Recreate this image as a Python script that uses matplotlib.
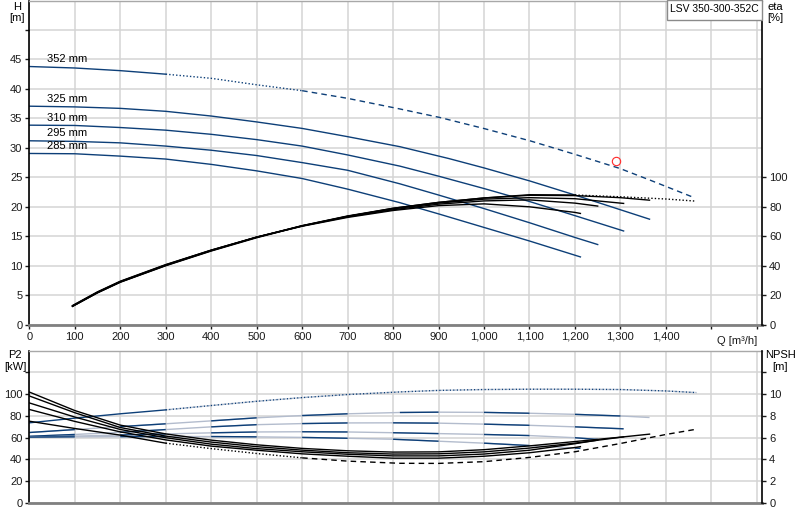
import numpy as np
import matplotlib
matplotlib.use("Agg")
from matplotlib import pyplot as plt
from matplotlib.patches import Rectangle

plt.rcParams['font.family'] = ['Liberation Sans', 'DejaVu Sans']
plt.rcParams['font.size'] = 8

NAVY = '#0d3f78'
LIGHT = '#b3bccd'
GRID = '#d4d4d4'
DOT = (0, (1, 1.5))
DASH = (0, (4, 3))

# head curves  Q [m3/h], H [m]
q_h352 = [0, 100, 200, 300, 400, 500, 600, 700, 815, 903, 999, 1101, 1200, 1299, 1366, 1464]
h352 = [43.8, 43.55, 43.1, 42.5, 41.8, 40.7, 39.7, 38.4, 36.6, 35.15, 33.3, 31.2, 28.9, 26.5, 24.5, 21.5]
q_h325 = [0, 100, 200, 300, 400, 500, 600, 700, 815, 922, 1000, 1100, 1200, 1300, 1364]
h325 = [37.07, 36.95, 36.7, 36.2, 35.4, 34.4, 33.3, 31.9, 30.2, 28.2, 26.6, 24.4, 22.0, 19.5, 17.9]
q_h310 = [0, 100, 200, 300, 400, 500, 600, 700, 815, 900, 1000, 1100, 1200, 1307]
h310 = [33.85, 33.8, 33.45, 33.0, 32.3, 31.4, 30.3, 28.8, 26.9, 25.2, 23.1, 20.9, 18.5, 15.9]
q_h295 = [0, 100, 200, 300, 400, 500, 600, 700, 815, 900, 1000, 1100, 1200, 1250]
h295 = [31.2, 31.1, 30.85, 30.3, 29.6, 28.7, 27.5, 26.2, 23.9, 22.0, 19.7, 17.3, 14.8, 13.6]
q_h285 = [0, 100, 200, 300, 400, 500, 600, 700, 815, 900, 1000, 1100, 1212]
h285 = [29.05, 29.0, 28.6, 28.1, 27.2, 26.1, 24.8, 23.0, 20.7, 18.8, 16.5, 14.2, 11.5]
diameters = ['352 mm', '325 mm', '310 mm', '295 mm', '285 mm']

# duty point
q_duty = [1291]
h_duty = [27.7]

# efficiency curves  eta [%]
q_e352 = [95, 150, 200, 300, 400, 500, 600, 700, 800, 900, 1000, 1100, 1200, 1300, 1400, 1464]
e352 = [12.4, 21.6, 28.8, 40, 50, 59, 67, 73.5, 79, 83, 86, 88.2, 88.0, 86.8, 85.3, 83.9]
q_e325 = [95, 150, 200, 300, 400, 500, 600, 700, 800, 900, 1000, 1100, 1200, 1300, 1364]
e325 = [12.5, 21.7, 28.9, 40.2, 50.2, 59.3, 67.2, 73.8, 79, 83, 86, 87.8, 87.6, 86.2, 84.5]
q_e310 = [95, 150, 200, 300, 400, 500, 600, 700, 800, 900, 1000, 1100, 1200, 1307]
e310 = [12.6, 21.9, 29.1, 40.4, 50.4, 59.4, 67.2, 73.6, 78.6, 82.5, 85.2, 86.2, 85.5, 82.3]
q_e295 = [95, 150, 200, 300, 400, 500, 600, 700, 800, 900, 1000, 1100, 1200, 1250]
e295 = [12.8, 22.1, 29.3, 40.6, 50.6, 59.5, 67, 73.2, 78, 81.8, 84, 84.7, 82.5, 80.5]
q_e285 = [95, 150, 200, 300, 400, 500, 600, 700, 800, 900, 1000, 1100, 1200, 1212]
e285 = [13, 22.3, 29.5, 40.8, 50.6, 59.4, 66.8, 72.8, 77.5, 80.8, 82, 80, 76.2, 75.5]

# power curves  P2 [kW]
q_p352 = [0, 100, 200, 300, 400, 500, 600, 700, 815, 900, 1000, 1100, 1200, 1300, 1400, 1467]
p352 = [73.7, 78, 82, 85.6, 89.6, 93.5, 96.9, 99.7, 102.1, 103.5, 104.3, 104.6, 104.6, 104.3, 103, 101.5]
q_p325 = [0, 100, 200, 300, 400, 500, 600, 700, 815, 900, 1000, 1100, 1200, 1300, 1364]
p325 = [64.8, 67.5, 70.2, 72.8, 75.5, 78.3, 80.4, 82, 83.2, 83.5, 83.3, 82.5, 81.5, 80, 78.6]
q_p310 = [0, 100, 200, 300, 400, 500, 600, 700, 800, 900, 1000, 1100, 1200, 1307]
p310 = [61.3, 63, 65, 67.5, 70, 72, 73, 73.6, 73.7, 73.4, 72.5, 71.4, 70, 68.2]
q_p295 = [0, 100, 200, 300, 400, 500, 600, 700, 800, 900, 1000, 1100, 1200, 1250]
p295 = [60.6, 61.5, 62.5, 63.5, 64.5, 65.3, 65.5, 65.3, 64.6, 63.8, 63, 62, 60, 58.4]
q_p285 = [0, 100, 200, 300, 400, 500, 600, 700, 800, 900, 1000, 1100, 1200, 1212]
p285 = [60.6, 60.8, 61, 61.1, 61.1, 60.8, 60.3, 59.5, 58.6, 56.8, 55, 52.8, 50.5, 50.2]

# NPSH curves [m]
q_n352 = [0, 100, 200, 300, 400, 500, 600, 700, 815, 900, 1000, 1100, 1200, 1300, 1400, 1464]
n352 = [7.52, 6.85, 6.24, 5.5, 5.0, 4.55, 4.15, 3.85, 3.65, 3.64, 3.8, 4.19, 4.71, 5.47, 6.3, 6.76]
q_n325 = [0, 100, 200, 300, 400, 500, 600, 700, 800, 900, 1000, 1100, 1200, 1300, 1364]
n325 = [10.2, 8.5, 7.16, 6.35, 5.78, 5.35, 5.02, 4.8, 4.68, 4.7, 4.9, 5.25, 5.65, 6.05, 6.33]
q_n310 = [0, 100, 200, 300, 400, 500, 600, 700, 800, 900, 1000, 1100, 1200, 1307]
n310 = [9.84, 8.3, 6.94, 6.15, 5.6, 5.18, 4.86, 4.62, 4.5, 4.52, 4.7, 5.05, 5.5, 6.08]
q_n295 = [0, 100, 200, 300, 400, 500, 600, 700, 800, 900, 1000, 1100, 1200, 1250]
n295 = [9.2, 7.9, 6.76, 6.0, 5.41, 5.0, 4.71, 4.48, 4.33, 4.33, 4.5, 4.85, 5.45, 5.78]
q_n285 = [0, 100, 200, 300, 400, 500, 600, 700, 800, 900, 1000, 1100, 1200, 1212]
n285 = [8.6, 7.5, 6.54, 5.8, 5.23, 4.85, 4.52, 4.3, 4.12, 4.12, 4.3, 4.62, 5.1, 5.18]

x_ticks = list(range(0, 1601, 100))


def two_tone(ax, q, v, ls='-', lw=1.0, first=NAVY, second=LIGHT):
    ax.plot(q, v, color=second, lw=lw, ls=ls, solid_capstyle='butt')
    for i in range(0, len(q) - 1, 2):
        ax.plot(q[i:i + 2], v[i:i + 2], color=first, lw=lw, ls=ls, solid_capstyle='butt')


def split_plot(ax, q, v, cuts, styles, color, lw=1.0):
    # cuts = list of indices where the line style changes
    bounds = [0] + cuts + [len(q) - 1]
    for k in range(len(bounds) - 1):
        a, b = bounds[k], bounds[k + 1]
        ax.plot(q[a:b + 1], v[a:b + 1], color=color, lw=lw, ls=styles[k])


def style_axes(ax, twin):
    ax.spines['left'].set_color('black')
    ax.spines['left'].set_linewidth(1.2)
    ax.spines['bottom'].set_color('#808080')
    ax.spines['bottom'].set_linewidth(2)
    ax.spines['top'].set_color('#a8a8a8')
    ax.spines['top'].set_linewidth(1)
    ax.spines['right'].set_visible(False)
    for s in ['left', 'top', 'bottom']:
        twin.spines[s].set_visible(False)
    twin.spines['right'].set_color('black')
    twin.spines['right'].set_linewidth(1.2)
    ax.tick_params(direction='out', length=3, width=1, pad=2, colors='#1a1a1a')
    twin.tick_params(direction='out', length=3, width=1, pad=2, colors='#1a1a1a')
    ax.set_xlim(0, 1612)
    ax.set_xticks(x_ticks)
    ax.grid(True, color=GRID, lw=1.1)
    ax.set_axisbelow(True)


fig = plt.figure(figsize=(8, 5.2), dpi=100)
W, H = 800.0, 520.0
x0, x1 = 29.3, 762.3

# ---------------- head / efficiency ----------------
ax1 = fig.add_axes([x0 / W, 1 - 324.7 / H, (x1 - x0) / W, 324.2 / H])
ax_eta = ax1.twinx()
style_axes(ax1, ax_eta)
ax1.set_ylim(0, 55)
ax1.set_yticks(range(0, 55, 5))
ax1.set_yticklabels([str(v) if v <= 45 else '' for v in range(0, 55, 5)])
ax1.set_xticklabels(['{:,}'.format(v) if v <= 1400 else '' for v in x_ticks])
ax_eta.set_ylim(0, 220)
ax_eta.set_yticks(range(0, 101, 20))

split_plot(ax1, q_h352, h352, [3, 6], ['-', DOT, DASH], NAVY)
for q, h in [(q_h325, h325), (q_h310, h310), (q_h295, h295), (q_h285, h285)]:
    ax1.plot(q, h, color=NAVY, lw=1.0)
for name, h in zip(diameters, [h352, h325, h310, h295, h285]):
    ax1.text(38, h[0] + 1.3, name, va='center', ha='left', fontsize=8)

ax1.plot(q_duty, h_duty, 'o', mfc='none', mec='#ff2a2a', ms=6, mew=0.8)

split_plot(ax_eta, q_e352, e352, [12], ['-', DOT], 'black', lw=1.0)
for q, e in [(q_e325, e325), (q_e310, e310), (q_e295, e295), (q_e285, e285)]:
    ax_eta.plot(q, e, color='black', lw=1.0)

ax1.text(1600, -0.035, 'Q [m\u00b3/h]', transform=ax1.get_xaxis_transform(),
         ha='right', va='top', fontsize=8, color='#1a1a1a')

fig.text(17 / W, 1 - 7 / H, 'H', ha='center', va='center')
fig.text(17.5 / W, 1 - 18 / H, '[m]', ha='center', va='center')
fig.text(775 / W, 1 - 7 / H, 'eta', ha='center', va='center')
fig.text(775 / W, 1 - 18 / H, '[%]', ha='center', va='center')

fig.patches.append(Rectangle((666.7 / W, 1 - 19.5 / H), 95 / W, 19.5 / H,
                             transform=fig.transFigure, facecolor='white',
                             edgecolor='#8a8a8a', lw=1, zorder=5))
fig.text(669.5 / W, 1 - 8.5 / H, 'LSV 350-300-352C', ha='left', va='center',
         fontsize=7.5, zorder=6)

# ---------------- power / NPSH ----------------
ax2 = fig.add_axes([x0 / W, 1 - 503 / H, (x1 - x0) / W, 152.3 / H])
ax_npsh = ax2.twinx()
style_axes(ax2, ax_npsh)
ax2.set_ylim(0, 140)
ax2.set_yticks(range(0, 121, 20))
ax2.set_yticklabels([str(v) if v <= 100 else '' for v in range(0, 121, 20)])
ax2.tick_params(axis='x', length=0, labelbottom=False)
ax_npsh.set_ylim(0, 14)
ax_npsh.set_yticks(range(0, 13, 2))
ax_npsh.set_yticklabels([str(v) if v <= 10 else '' for v in range(0, 13, 2)])

split_plot(ax2, q_p352, p352, [3], ['-', DOT], NAVY)
ax2.plot(q_p352[3:], p352[3:], color=LIGHT, lw=1.0, ls=(1.2, (1, 1.5)))
for q, p in [(q_p325, p325), (q_p310, p310), (q_p295, p295), (q_p285, p285)]:
    two_tone(ax2, q, p)

split_plot(ax_npsh, q_n352, n352, [3, 6], ['-', DOT, DASH], 'black')
for q, n in [(q_n325, n325), (q_n310, n310), (q_n295, n295), (q_n285, n285)]:
    ax_npsh.plot(q, n, color='black', lw=1.0)

fig.text(15 / W, 1 - 355.5 / H, 'P2', ha='center', va='center')
fig.text(15 / W, 1 - 367 / H, '[kW]', ha='center', va='center')
fig.text(780 / W, 1 - 355.5 / H, 'NPSH', ha='center', va='center')
fig.text(780 / W, 1 - 367 / H, '[m]', ha='center', va='center')

fig.savefig('out.png', dpi=100)
